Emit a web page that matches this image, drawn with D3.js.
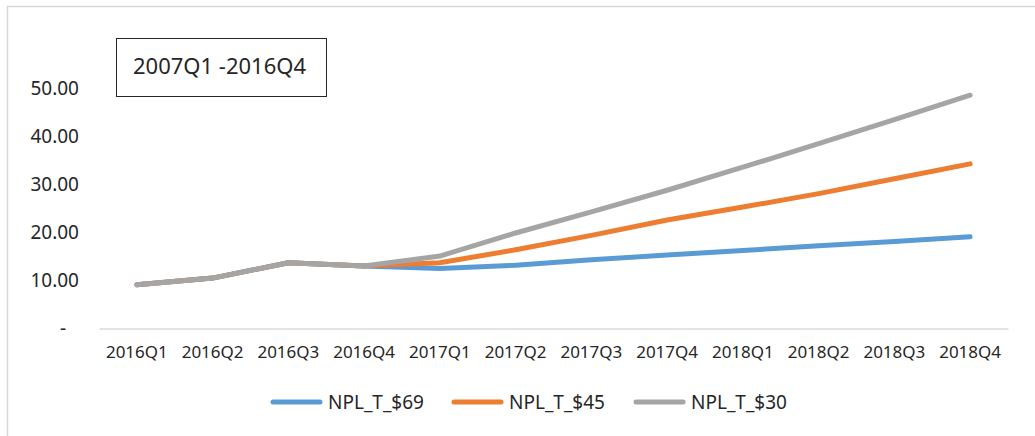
<!DOCTYPE html>
<html>
<head>
<meta charset="utf-8" />
<title>NPL scenarios</title>
<script src="https://d3js.org/d3.v7.min.js"></script>
<style>
  body { margin: 0; background: #fff; }
  svg text { font-family: "Noto Sans", sans-serif; fill: #262626; }
</style>
</head>
<body>
<svg id="viz"></svg>
<script>

// quarters on the x axis
var quarters = ["2016Q1", "2016Q2", "2016Q3", "2016Q4", "2017Q1", "2017Q2",
                "2017Q3", "2017Q4", "2018Q1", "2018Q2", "2018Q3", "2018Q4"];

// series values
var npl69 = [9.1, 10.5, 13.7, 13.0, 12.5, 13.2, 14.3, 15.3, 16.25, 17.25, 18.1, 19.1];
var npl45 = [9.1, 10.5, 13.7, 13.0, 13.7, 16.4, 19.4, 22.6, 25.3, 28.1, 31.2, 34.3];
var npl30 = [9.1, 10.5, 13.7, 13.0, 15.1, 19.9, 24.3, 28.8, 33.6, 38.5, 43.5, 48.6];

var seriesNames = ["NPL_T_$69", "NPL_T_$45", "NPL_T_$30"];
var seriesColors = ["#5b9bd5", "#ed7d31", "#a5a5a5"];

var yTicks = [0, 10, 20, 30, 40, 50];
var boxLabel = "2007Q1 -2016Q4";

var width = 1035, height = 436;

var svg = d3.select("#viz")
  .attr("width", width)
  .attr("height", height);

// outer chart border (right and bottom run off the picture)
svg.append("rect")
  .attr("x", 7.5).attr("y", 6.5)
  .attr("width", 1040).attr("height", 440)
  .attr("fill", "none")
  .attr("stroke", "#d9d9d9")
  .attr("stroke-width", 1.5);

var x = d3.scaleBand().domain(quarters).range([99, 1008]);
var y = d3.scaleLinear().domain([0, 60]).range([328.5, 40.5]);

// y labels, no axis line
var yAxis = svg.append("g")
  .attr("transform", "translate(79,0)")
  .call(d3.axisLeft(y).tickValues(yTicks).tickSize(0).tickPadding(0)
    .tickFormat(function(d) { return d === 0 ? "-" : d3.format(".2f")(d); }));
yAxis.select(".domain").remove();
yAxis.selectAll("text")
  .attr("font-size", 19)
  .attr("dx", function(d) { return d === 0 ? -13 : 0; });

// x axis
var xAxis = svg.append("g")
  .attr("transform", "translate(0," + y(0) + ")")
  .call(d3.axisBottom(x).tickSize(0).tickPadding(17));
xAxis.select(".domain").attr("stroke", "#d9d9d9").attr("stroke-width", 1.5);
xAxis.selectAll("text").attr("font-size", 17);

// lines
var line = d3.line()
  .x(function(d, i) { return x(quarters[i]) + x.bandwidth() / 2; })
  .y(function(d) { return y(d); });

[npl69, npl45, npl30].forEach(function(vals, i) {
  svg.append("path")
    .datum(vals)
    .attr("d", line)
    .attr("fill", "none")
    .attr("stroke", seriesColors[i])
    .attr("stroke-width", 5)
    .attr("stroke-linecap", "round")
    .attr("stroke-linejoin", "round");
});

// label box
svg.append("rect")
  .attr("x", 116.5).attr("y", 38.5)
  .attr("width", 210).attr("height", 58)
  .attr("fill", "#fff")
  .attr("stroke", "#262626")
  .attr("stroke-width", 1);
svg.append("text")
  .attr("x", 133).attr("y", 74)
  .attr("font-size", 22)
  .text(boxLabel);

// legend
var legendX = [273, 454, 636];
var legend = svg.selectAll(".legend")
  .data(seriesNames)
  .enter().append("g")
  .attr("class", "legend")
  .attr("transform", function(d, i) { return "translate(" + legendX[i] + ",402)"; });
legend.append("line")
  .attr("x1", 0).attr("x2", 47)
  .attr("stroke", function(d, i) { return seriesColors[i]; })
  .attr("stroke-width", 5)
  .attr("stroke-linecap", "round");
legend.append("text")
  .attr("x", 55)
  .attr("dy", "0.35em")
  .attr("font-size", 19)
  .text(function(d) { return d; });

</script>
</body>
</html>
